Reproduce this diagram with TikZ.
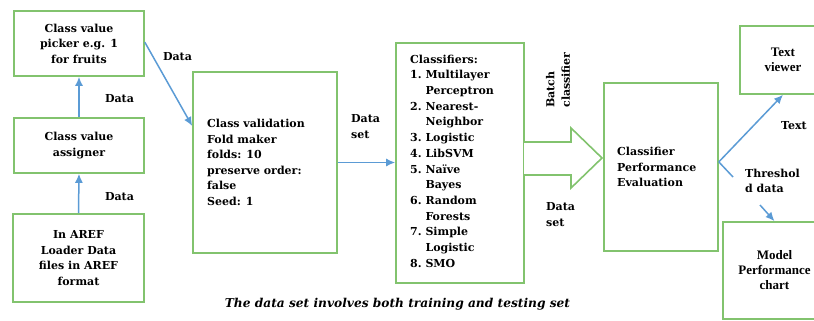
\documentclass[tikz,border=0pt]{standalone}
\usepackage{fontspec}
\setmainfont{DejaVu Serif}
\newfontfamily\timesf{Liberation Serif}
\usetikzlibrary{arrows.meta,calc}
\definecolor{boxgreen}{RGB}{130,195,110}
\definecolor{arrowblue}{RGB}{91,155,213}
\begin{document}
\begin{tikzpicture}[x=1pt,y=-1pt,
  box/.style={draw=boxgreen,line width=1.6pt,inner sep=0pt,align=center,
    font=\bfseries\fontsize{11}{15.5}\selectfont},
  tbox/.style={box,font=\timesf\bfseries\fontsize{13}{15}\selectfont},
  txt/.style={font=\bfseries\fontsize{11}{15.5}\selectfont,inner sep=0pt},
  conn/.style={draw=arrowblue,line width=1.5pt,-{Latex[length=9pt,width=8pt]}},
  plain/.style={draw=arrowblue,line width=1.5pt}]
\clip (0,0) rectangle (814,321);
% left column
\node[box,minimum width=130pt,minimum height=65pt] (b1) at (79,43.5) {Class value\\picker e.g. 1\\for fruits};
\node[box,minimum width=130pt,minimum height=55pt] (b2) at (79,145.5) {Class value\\assigner};
\node[box,minimum width=131pt,minimum height=88pt] (b3) at (78.5,258) {In AREF\\Loader Data\\files in AREF\\format};
% validation
\node[box,minimum width=144pt,minimum height=181pt] (b4) at (265,162.5) {};
\node[txt,anchor=west,align=left] (b4t) at (207,162.5) {Class validation\\Fold maker\\folds: 10\\preserve order:\\false\\Seed: 1};
% classifiers
\node[box,minimum width=128pt,minimum height=240pt] (b5) at (460,163) {};
\node[txt,anchor=north west,align=left,font=\bfseries\fontsize{11}{15.7}\selectfont] (b5t) at (410,52) {%
\begin{tabular}{@{}l@{\ }l@{}}
\multicolumn{2}{@{}l@{}}{Classifiers:}\\
1. & Multilayer\\
   & Perceptron\\
2. & Nearest-\\
   & Neighbor\\
3. & Logistic\\
4. & LibSVM\\
5. & Naïve\\
   & Bayes\\
6. & Random\\
   & Forests\\
7. & Simple\\
   & Logistic\\
8. & SMO
\end{tabular}};
% evaluation
\node[box,minimum width=114pt,minimum height=168pt] (b6) at (661,167) {};
\node[txt,anchor=west,align=left] (b6t) at (617,167) {Classifier\\Performance\\Evaluation};
% outputs
\node[tbox,minimum width=86pt,minimum height=68pt] (b7) at (783,60) {Text\\viewer};
\node[tbox,minimum width=103pt,minimum height=97pt] (b8) at (774.5,270.5) {Model\\Performance\\chart};
% big outline arrow
\draw[draw=boxgreen,line width=1.6pt,line join=miter,fill=white]
  (524,142) -- (571,142) -- (571,128) -- (602,158) -- (571,188) -- (571,175) -- (524,175);
% connectors
\draw[conn] (b3.north) -- (b2.south);
\draw[conn] (b2.north) -- (b1.south);
\draw[conn] ($(b1.north east)!0.48!(b1.south east)$) -- ($(b4.north west)!0.3!(b4.south west)$);
\draw[conn] (b4.east) -- (b4.east -| b5.west);
\draw[conn] ($(b6.north east)!0.47!(b6.south east)$) -- (b7.south);
\coordinate (t1) at (733,177);
\coordinate (t2) at (760,205);
\draw[plain] ($(b6.north east)!0.47!(b6.south east)$) -- (t1);
\draw[conn] (t2) -- (b8.north);
% labels
\node[txt] (l1) at (177.5,57) {Data};
\node[txt] (l2) at (119.5,99) {Data};
\node[txt] (l3) at (119.5,197) {Data};
\node[txt,anchor=west,align=left] (l4) at (351,126.5) {Data\\set};
\node[txt,rotate=90,align=left] (l5) at (558,80) {Batch\\classifier};
\node[txt,anchor=west,align=left] (l6) at (546,214.5) {Data\\set};
\node[txt] (l7) at (794,126) {Text};
\node[txt,anchor=west,align=left] (l8) at (745,181) {Threshol\\d data};
\node[txt,font=\bfseries\itshape\fontsize{12.2}{14}\selectfont] (cap) at (397.5,304) {The data set involves both training and testing set};
\end{tikzpicture}
\end{document}
